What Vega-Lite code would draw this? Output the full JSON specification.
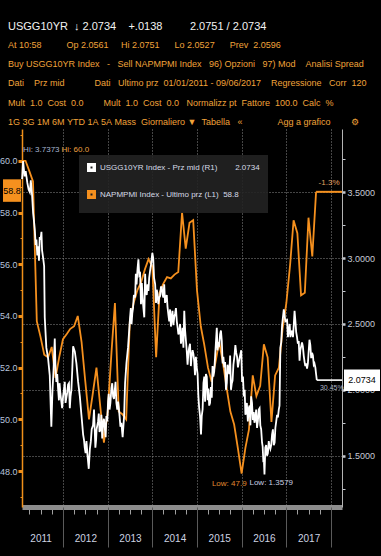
{
  "$schema": "https://vega.github.io/schema/vega-lite/v6.json",
  "width": 320,
  "height": 378,
  "autosize": {"type": "none"},
  "padding": {"left": 22, "top": 129, "right": 39, "bottom": 49},
  "background": "#000000",
  "config": {
    "view": {"stroke": null},
    "font": "Liberation Sans Narrow, Liberation Sans, sans-serif",
    "axis": {"labelFont": "Liberation Sans Narrow, Liberation Sans, sans-serif"},
    "legend": {"labelFont": "Liberation Sans Narrow, Liberation Sans, sans-serif"}
  },
  "title": {
    "text": "USGG10YR\u00a0\u00a0↓\u00a02.0734\u00a0\u00a0\u00a0\u00a0+.0138\u00a0\u00a0\u00a0\u00a0\u00a0\u00a0\u00a0\u00a0\u00a02.0751\u00a0/\u00a02.0734",
    "subtitle": [
      "At\u00a010:58\u00a0\u00a0\u00a0\u00a0\u00a0\u00a0\u00a0\u00a0\u00a0\u00a0Op\u00a02.0561\u00a0\u00a0\u00a0\u00a0\u00a0Hi\u00a02.0751\u00a0\u00a0\u00a0\u00a0\u00a0\u00a0Lo\u00a02.0527\u00a0\u00a0\u00a0\u00a0\u00a0\u00a0Prev\u00a0\u00a02.0596",
      "\u00a0\u00a0\u00a0\u00a0Buy\u00a0USGG10YR\u00a0Index\u00a0\u00a0\u00a0-\u00a0\u00a0\u00a0Sell\u00a0NAPMPMI\u00a0Index\u00a0\u00a0\u00a096)\u00a0Opzioni\u00a0\u00a0\u00a097)\u00a0Mod\u00a0\u00a0\u00a0\u00a0Analisi\u00a0Spread",
      "Dati\u00a0\u00a0\u00a0\u00a0Prz\u00a0mid\u00a0\u00a0\u00a0\u00a0\u00a0\u00a0\u00a0\u00a0\u00a0\u00a0\u00a0\u00a0Dati\u00a0\u00a0\u00a0Ultimo\u00a0prz\u00a0\u00a001/01/2011\u00a0-\u00a009/06/2017\u00a0\u00a0\u00a0\u00a0Regressione\u00a0\u00a0\u00a0Corr\u00a0\u00a0120",
      "Mult\u00a0\u00a01.0\u00a0\u00a0Cost\u00a0\u00a00.0\u00a0\u00a0\u00a0\u00a0\u00a0\u00a0\u00a0\u00a0Mult\u00a0\u00a01.0\u00a0\u00a0Cost\u00a0\u00a00.0\u00a0\u00a0\u00a0Normalizz\u00a0pt\u00a0\u00a0Fattore\u00a0\u00a0100.0\u00a0\u00a0Calc\u00a0\u00a0%",
      "1G\u00a03G\u00a01M\u00a06M\u00a0YTD\u00a01A\u00a05A\u00a0Mass\u00a0\u00a0Giornaliero\u00a0▼\u00a0\u00a0Tabella\u00a0\u00a0\u00a0«\u00a0\u00a0\u00a0\u00a0\u00a0\u00a0\u00a0\u00a0\u00a0\u00a0\u00a0\u00a0\u00a0\u00a0Agg\u00a0a\u00a0grafico\u00a0\u00a0\u00a0\u00a0\u00a0\u00a0\u00a0\u00a0⚙"
    ],
    "anchor": "start",
    "frame": "group",
    "orient": "top",
    "dx": -14,
    "offset": 2,
    "font": "Liberation Sans Narrow, Liberation Sans, sans-serif",
    "fontSize": 11,
    "fontWeight": "normal",
    "color": "#f2f2f2",
    "subtitleFont": "Liberation Sans Narrow, Liberation Sans, sans-serif",
    "subtitleFontSize": 9,
    "subtitleColor": "#f0a33a",
    "subtitleLineHeight": 19.3,
    "subtitlePadding": 9
  },
  "datasets": {
    "pmi": [
      {"date": "2011-01-31", "v": 60.0}, {"date": "2011-02-28", "v": 60.0}, {"date": "2011-03-31", "v": 59.6}, {"date": "2011-04-30", "v": 59.2},
      {"date": "2011-05-31", "v": 53.8}, {"date": "2011-06-30", "v": 53.2}, {"date": "2011-07-31", "v": 52.5}, {"date": "2011-08-31", "v": 52.4},
      {"date": "2011-09-30", "v": 52.8}, {"date": "2011-10-31", "v": 51.6}, {"date": "2011-11-30", "v": 52.4}, {"date": "2011-12-31", "v": 53.1},
      {"date": "2012-01-31", "v": 53.3}, {"date": "2012-02-29", "v": 53.5}, {"date": "2012-03-31", "v": 53.6}, {"date": "2012-04-30", "v": 54.0},
      {"date": "2012-05-31", "v": 53.0}, {"date": "2012-06-30", "v": 51.5}, {"date": "2012-07-31", "v": 50.0}, {"date": "2012-08-31", "v": 51.0},
      {"date": "2012-09-30", "v": 52.0}, {"date": "2012-10-31", "v": 50.5}, {"date": "2012-11-30", "v": 49.1}, {"date": "2012-12-31", "v": 50.3},
      {"date": "2013-01-31", "v": 52.6}, {"date": "2013-02-28", "v": 54.5}, {"date": "2013-03-31", "v": 50.3}, {"date": "2013-04-30", "v": 50.2},
      {"date": "2013-05-31", "v": 50.0}, {"date": "2013-06-30", "v": 53.8}, {"date": "2013-07-31", "v": 54.5}, {"date": "2013-08-31", "v": 55.0},
      {"date": "2013-09-30", "v": 55.3}, {"date": "2013-10-31", "v": 55.8}, {"date": "2013-11-30", "v": 56.2}, {"date": "2013-12-31", "v": 55.9},
      {"date": "2014-01-31", "v": 52.4}, {"date": "2014-02-28", "v": 54.9}, {"date": "2014-03-31", "v": 55.25}, {"date": "2014-04-30", "v": 55.5},
      {"date": "2014-05-31", "v": 55.45}, {"date": "2014-06-30", "v": 55.6}, {"date": "2014-07-31", "v": 55.7}, {"date": "2014-08-31", "v": 58.0},
      {"date": "2014-09-30", "v": 56.6}, {"date": "2014-10-31", "v": 57.6}, {"date": "2014-11-30", "v": 57.7}, {"date": "2014-12-31", "v": 55.0},
      {"date": "2015-01-31", "v": 53.6}, {"date": "2015-02-28", "v": 52.9}, {"date": "2015-03-31", "v": 52.0}, {"date": "2015-04-30", "v": 51.45},
      {"date": "2015-05-31", "v": 52.2}, {"date": "2015-06-30", "v": 53.0}, {"date": "2015-07-31", "v": 52.2}, {"date": "2015-08-31", "v": 51.2},
      {"date": "2015-09-30", "v": 50.3}, {"date": "2015-10-31", "v": 49.8}, {"date": "2015-11-30", "v": 48.9}, {"date": "2015-12-31", "v": 47.9},
      {"date": "2016-01-31", "v": 48.9}, {"date": "2016-02-29", "v": 49.6}, {"date": "2016-03-31", "v": 51.7}, {"date": "2016-04-30", "v": 50.9},
      {"date": "2016-05-31", "v": 51.3}, {"date": "2016-06-30", "v": 52.9}, {"date": "2016-07-31", "v": 52.4}, {"date": "2016-08-31", "v": 49.9},
      {"date": "2016-09-30", "v": 51.7}, {"date": "2016-10-31", "v": 52.0}, {"date": "2016-11-30", "v": 53.5}, {"date": "2016-12-31", "v": 54.5},
      {"date": "2017-01-31", "v": 56.0}, {"date": "2017-02-28", "v": 57.7}, {"date": "2017-03-31", "v": 57.2}, {"date": "2017-04-30", "v": 54.8},
      {"date": "2017-05-31", "v": 54.9}, {"date": "2017-06-30", "v": 57.8}, {"date": "2017-07-31", "v": 56.3}, {"date": "2017-08-31", "v": 58.8}
    ],
    "yld": [
      {"date": "2011-01-31", "v": 3.60}, {"date": "2011-02-08", "v": 3.7373}, {"date": "2011-02-20", "v": 3.62}, {"date": "2011-03-01", "v": 3.66},
      {"date": "2011-03-15", "v": 3.57}, {"date": "2011-03-25", "v": 3.52}, {"date": "2011-04-04", "v": 3.50}, {"date": "2011-04-12", "v": 3.59},
      {"date": "2011-04-23", "v": 3.47}, {"date": "2011-05-01", "v": 3.34}, {"date": "2011-05-08", "v": 3.28}, {"date": "2011-05-15", "v": 3.21},
      {"date": "2011-05-22", "v": 3.10}, {"date": "2011-05-28", "v": 3.14}, {"date": "2011-06-04", "v": 3.02}, {"date": "2011-06-11", "v": 3.09},
      {"date": "2011-06-18", "v": 2.98}, {"date": "2011-06-24", "v": 3.16}, {"date": "2011-07-01", "v": 3.14}, {"date": "2011-07-08", "v": 3.20},
      {"date": "2011-07-13", "v": 3.06}, {"date": "2011-07-22", "v": 3.00}, {"date": "2011-07-30", "v": 2.94}, {"date": "2011-08-04", "v": 2.55},
      {"date": "2011-08-17", "v": 2.32}, {"date": "2011-08-31", "v": 2.24}, {"date": "2011-09-14", "v": 2.11}, {"date": "2011-09-27", "v": 1.72},
      {"date": "2011-10-06", "v": 1.99}, {"date": "2011-10-15", "v": 2.15}, {"date": "2011-10-25", "v": 2.39}, {"date": "2011-10-30", "v": 2.20},
      {"date": "2011-11-07", "v": 2.06}, {"date": "2011-11-14", "v": 2.12}, {"date": "2011-11-21", "v": 2.01}, {"date": "2011-11-28", "v": 1.92},
      {"date": "2011-12-03", "v": 2.05}, {"date": "2011-12-10", "v": 1.97}, {"date": "2011-12-18", "v": 1.91}, {"date": "2011-12-24", "v": 1.86},
      {"date": "2012-01-01", "v": 1.95}, {"date": "2012-01-08", "v": 2.00}, {"date": "2012-01-15", "v": 2.06}, {"date": "2012-01-21", "v": 1.90},
      {"date": "2012-01-28", "v": 1.94}, {"date": "2012-02-04", "v": 1.98}, {"date": "2012-02-11", "v": 2.04}, {"date": "2012-02-18", "v": 2.05},
      {"date": "2012-02-25", "v": 1.86}, {"date": "2012-03-02", "v": 1.95}, {"date": "2012-03-09", "v": 2.00}, {"date": "2012-03-16", "v": 2.15},
      {"date": "2012-03-23", "v": 2.33}, {"date": "2012-04-06", "v": 2.29}, {"date": "2012-04-19", "v": 2.20}, {"date": "2012-05-03", "v": 2.06},
      {"date": "2012-05-17", "v": 1.95}, {"date": "2012-05-30", "v": 1.81}, {"date": "2012-06-13", "v": 1.66}, {"date": "2012-06-20", "v": 1.62},
      {"date": "2012-06-26", "v": 1.56}, {"date": "2012-07-03", "v": 1.52}, {"date": "2012-07-10", "v": 1.61}, {"date": "2012-07-19", "v": 1.50},
      {"date": "2012-07-29", "v": 1.40}, {"date": "2012-08-07", "v": 1.55}, {"date": "2012-08-15", "v": 1.61}, {"date": "2012-08-22", "v": 1.70},
      {"date": "2012-09-02", "v": 1.73}, {"date": "2012-09-10", "v": 1.85}, {"date": "2012-09-21", "v": 1.56}, {"date": "2012-09-27", "v": 1.62},
      {"date": "2012-10-01", "v": 1.70}, {"date": "2012-10-13", "v": 1.76}, {"date": "2012-10-19", "v": 1.82}, {"date": "2012-10-25", "v": 1.68},
      {"date": "2012-11-02", "v": 1.70}, {"date": "2012-11-09", "v": 1.81}, {"date": "2012-11-16", "v": 1.63}, {"date": "2012-11-23", "v": 1.75},
      {"date": "2012-11-30", "v": 1.78}, {"date": "2012-12-07", "v": 1.71}, {"date": "2012-12-14", "v": 1.64}, {"date": "2012-12-20", "v": 1.80},
      {"date": "2012-12-27", "v": 1.76}, {"date": "2013-01-03", "v": 1.91}, {"date": "2013-01-08", "v": 1.97}, {"date": "2013-01-15", "v": 1.85},
      {"date": "2013-01-22", "v": 1.90}, {"date": "2013-01-30", "v": 2.01}, {"date": "2013-02-06", "v": 2.05}, {"date": "2013-02-13", "v": 1.95},
      {"date": "2013-02-20", "v": 1.93}, {"date": "2013-02-27", "v": 2.00}, {"date": "2013-03-05", "v": 2.06}, {"date": "2013-03-12", "v": 1.90},
      {"date": "2013-03-19", "v": 1.85}, {"date": "2013-03-26", "v": 1.91}, {"date": "2013-04-01", "v": 1.86}, {"date": "2013-04-07", "v": 1.80},
      {"date": "2013-04-14", "v": 1.72}, {"date": "2013-04-22", "v": 1.75}, {"date": "2013-04-28", "v": 1.68}, {"date": "2013-05-02", "v": 1.64},
      {"date": "2013-05-14", "v": 1.80}, {"date": "2013-05-22", "v": 2.05}, {"date": "2013-06-02", "v": 2.20}, {"date": "2013-06-15", "v": 2.32},
      {"date": "2013-07-02", "v": 2.55}, {"date": "2013-07-08", "v": 2.62}, {"date": "2013-07-14", "v": 2.50}, {"date": "2013-07-20", "v": 2.58},
      {"date": "2013-07-26", "v": 2.62}, {"date": "2013-08-02", "v": 2.72}, {"date": "2013-08-12", "v": 2.70}, {"date": "2013-08-18", "v": 2.88},
      {"date": "2013-08-24", "v": 2.80}, {"date": "2013-09-01", "v": 2.92}, {"date": "2013-09-08", "v": 2.99}, {"date": "2013-09-15", "v": 2.87},
      {"date": "2013-09-22", "v": 2.88}, {"date": "2013-09-29", "v": 2.65}, {"date": "2013-10-06", "v": 2.81}, {"date": "2013-10-12", "v": 2.70},
      {"date": "2013-10-19", "v": 2.62}, {"date": "2013-10-26", "v": 2.55}, {"date": "2013-11-02", "v": 2.88}, {"date": "2013-11-08", "v": 2.75},
      {"date": "2013-11-15", "v": 2.72}, {"date": "2013-11-22", "v": 2.80}, {"date": "2013-11-29", "v": 2.75}, {"date": "2013-12-05", "v": 2.85},
      {"date": "2013-12-12", "v": 2.90}, {"date": "2013-12-20", "v": 2.95}, {"date": "2013-12-31", "v": 3.04}, {"date": "2014-01-07", "v": 3.00},
      {"date": "2014-01-14", "v": 2.85}, {"date": "2014-01-23", "v": 2.80}, {"date": "2014-01-30", "v": 2.66}, {"date": "2014-02-05", "v": 2.76},
      {"date": "2014-02-12", "v": 2.72}, {"date": "2014-02-18", "v": 2.65}, {"date": "2014-02-25", "v": 2.70}, {"date": "2014-03-04", "v": 2.71},
      {"date": "2014-03-11", "v": 2.78}, {"date": "2014-03-18", "v": 2.78}, {"date": "2014-03-25", "v": 2.72}, {"date": "2014-03-31", "v": 2.70},
      {"date": "2014-04-07", "v": 2.80}, {"date": "2014-04-14", "v": 2.66}, {"date": "2014-04-21", "v": 2.70}, {"date": "2014-04-28", "v": 2.72},
      {"date": "2014-05-04", "v": 2.63}, {"date": "2014-05-11", "v": 2.57}, {"date": "2014-05-18", "v": 2.52}, {"date": "2014-05-25", "v": 2.61},
      {"date": "2014-06-01", "v": 2.48}, {"date": "2014-06-08", "v": 2.55}, {"date": "2014-06-14", "v": 2.60}, {"date": "2014-06-21", "v": 2.49},
      {"date": "2014-06-28", "v": 2.55}, {"date": "2014-07-05", "v": 2.58}, {"date": "2014-07-12", "v": 2.62}, {"date": "2014-07-19", "v": 2.52},
      {"date": "2014-07-26", "v": 2.47}, {"date": "2014-08-01", "v": 2.42}, {"date": "2014-08-08", "v": 2.44}, {"date": "2014-08-15", "v": 2.50},
      {"date": "2014-08-22", "v": 2.35}, {"date": "2014-08-29", "v": 2.40}, {"date": "2014-09-04", "v": 2.47}, {"date": "2014-09-11", "v": 2.32},
      {"date": "2014-09-18", "v": 2.60}, {"date": "2014-09-25", "v": 2.45}, {"date": "2014-10-01", "v": 2.38}, {"date": "2014-10-08", "v": 2.30},
      {"date": "2014-10-15", "v": 2.19}, {"date": "2014-10-22", "v": 2.28}, {"date": "2014-10-28", "v": 2.32}, {"date": "2014-11-04", "v": 2.35},
      {"date": "2014-11-11", "v": 2.18}, {"date": "2014-11-18", "v": 2.26}, {"date": "2014-11-25", "v": 2.30}, {"date": "2014-12-02", "v": 2.27},
      {"date": "2014-12-08", "v": 2.22}, {"date": "2014-12-15", "v": 2.11}, {"date": "2014-12-22", "v": 2.25}, {"date": "2014-12-29", "v": 2.17},
      {"date": "2015-01-05", "v": 2.12}, {"date": "2015-01-11", "v": 1.96}, {"date": "2015-01-18", "v": 1.86}, {"date": "2015-01-25", "v": 1.80},
      {"date": "2015-02-02", "v": 1.66}, {"date": "2015-02-08", "v": 1.80}, {"date": "2015-02-15", "v": 1.85}, {"date": "2015-02-22", "v": 2.05},
      {"date": "2015-03-01", "v": 2.10}, {"date": "2015-03-07", "v": 1.91}, {"date": "2015-03-14", "v": 2.12}, {"date": "2015-03-21", "v": 2.10},
      {"date": "2015-03-28", "v": 1.92}, {"date": "2015-04-03", "v": 2.01}, {"date": "2015-04-10", "v": 1.88}, {"date": "2015-04-17", "v": 1.90},
      {"date": "2015-04-24", "v": 2.02}, {"date": "2015-05-01", "v": 1.94}, {"date": "2015-05-07", "v": 2.18}, {"date": "2015-05-14", "v": 2.10},
      {"date": "2015-05-21", "v": 2.14}, {"date": "2015-05-28", "v": 2.25}, {"date": "2015-06-04", "v": 2.36}, {"date": "2015-06-11", "v": 2.47},
      {"date": "2015-06-17", "v": 2.30}, {"date": "2015-06-24", "v": 2.35}, {"date": "2015-07-01", "v": 2.34}, {"date": "2015-07-08", "v": 2.42},
      {"date": "2015-07-15", "v": 2.45}, {"date": "2015-07-22", "v": 2.37}, {"date": "2015-07-29", "v": 2.20}, {"date": "2015-08-04", "v": 2.25},
      {"date": "2015-08-11", "v": 2.17}, {"date": "2015-08-18", "v": 2.21}, {"date": "2015-08-25", "v": 2.00}, {"date": "2015-09-01", "v": 2.05},
      {"date": "2015-09-07", "v": 2.19}, {"date": "2015-09-14", "v": 2.15}, {"date": "2015-09-21", "v": 2.12}, {"date": "2015-09-28", "v": 2.26},
      {"date": "2015-10-05", "v": 2.00}, {"date": "2015-10-12", "v": 2.05}, {"date": "2015-10-18", "v": 2.07}, {"date": "2015-10-25", "v": 2.19},
      {"date": "2015-11-03", "v": 2.26}, {"date": "2015-11-10", "v": 2.34}, {"date": "2015-11-17", "v": 2.28}, {"date": "2015-11-24", "v": 2.25},
      {"date": "2015-12-01", "v": 2.17}, {"date": "2015-12-08", "v": 2.21}, {"date": "2015-12-14", "v": 2.24}, {"date": "2015-12-21", "v": 2.27},
      {"date": "2015-12-28", "v": 2.30}, {"date": "2016-01-04", "v": 2.06}, {"date": "2016-01-11", "v": 2.10}, {"date": "2016-01-18", "v": 1.95},
      {"date": "2016-01-25", "v": 2.00}, {"date": "2016-01-31", "v": 1.81}, {"date": "2016-02-06", "v": 1.84}, {"date": "2016-02-12", "v": 1.90},
      {"date": "2016-02-20", "v": 1.76}, {"date": "2016-02-28", "v": 1.86}, {"date": "2016-03-05", "v": 1.88}, {"date": "2016-03-12", "v": 1.73},
      {"date": "2016-03-18", "v": 1.95}, {"date": "2016-03-25", "v": 1.90}, {"date": "2016-04-01", "v": 1.77}, {"date": "2016-04-08", "v": 1.83},
      {"date": "2016-04-14", "v": 1.75}, {"date": "2016-04-21", "v": 1.78}, {"date": "2016-04-28", "v": 1.85}, {"date": "2016-05-05", "v": 1.71},
      {"date": "2016-05-12", "v": 1.76}, {"date": "2016-05-19", "v": 1.85}, {"date": "2016-05-26", "v": 1.86}, {"date": "2016-06-01", "v": 1.73},
      {"date": "2016-06-08", "v": 1.70}, {"date": "2016-06-15", "v": 1.60}, {"date": "2016-06-20", "v": 1.57}, {"date": "2016-06-26", "v": 1.45},
      {"date": "2016-06-30", "v": 1.47}, {"date": "2016-07-05", "v": 1.3579}, {"date": "2016-07-12", "v": 1.56}, {"date": "2016-07-19", "v": 1.58},
      {"date": "2016-07-26", "v": 1.50}, {"date": "2016-08-02", "v": 1.52}, {"date": "2016-08-09", "v": 1.61}, {"date": "2016-08-15", "v": 1.57},
      {"date": "2016-08-22", "v": 1.55}, {"date": "2016-08-29", "v": 1.58}, {"date": "2016-09-05", "v": 1.66}, {"date": "2016-09-12", "v": 1.70},
      {"date": "2016-09-19", "v": 1.58}, {"date": "2016-09-26", "v": 1.60}, {"date": "2016-10-02", "v": 1.71}, {"date": "2016-10-09", "v": 1.76},
      {"date": "2016-10-16", "v": 1.81}, {"date": "2016-10-23", "v": 1.79}, {"date": "2016-10-30", "v": 1.85}, {"date": "2016-11-05", "v": 1.88},
      {"date": "2016-11-12", "v": 2.32}, {"date": "2016-11-19", "v": 2.36}, {"date": "2016-11-26", "v": 2.49}, {"date": "2016-12-10", "v": 2.61},
      {"date": "2016-12-23", "v": 2.52}, {"date": "2017-01-06", "v": 2.53}, {"date": "2017-01-13", "v": 2.40}, {"date": "2017-01-20", "v": 2.45},
      {"date": "2017-01-27", "v": 2.50}, {"date": "2017-02-02", "v": 2.40}, {"date": "2017-02-09", "v": 2.43}, {"date": "2017-02-16", "v": 2.45},
      {"date": "2017-02-23", "v": 2.40}, {"date": "2017-03-02", "v": 2.50}, {"date": "2017-03-08", "v": 2.60}, {"date": "2017-03-15", "v": 2.52},
      {"date": "2017-03-21", "v": 2.44}, {"date": "2017-03-28", "v": 2.40}, {"date": "2017-04-04", "v": 2.35}, {"date": "2017-04-11", "v": 2.37},
      {"date": "2017-04-18", "v": 2.22}, {"date": "2017-04-24", "v": 2.30}, {"date": "2017-05-01", "v": 2.33}, {"date": "2017-05-08", "v": 2.36},
      {"date": "2017-05-15", "v": 2.33}, {"date": "2017-05-22", "v": 2.26}, {"date": "2017-05-29", "v": 2.21}, {"date": "2017-06-04", "v": 2.18},
      {"date": "2017-06-11", "v": 2.20}, {"date": "2017-06-18", "v": 2.16}, {"date": "2017-06-25", "v": 2.20}, {"date": "2017-07-02", "v": 2.30},
      {"date": "2017-07-08", "v": 2.38}, {"date": "2017-07-15", "v": 2.34}, {"date": "2017-07-22", "v": 2.24}, {"date": "2017-07-29", "v": 2.28},
      {"date": "2017-08-05", "v": 2.26}, {"date": "2017-08-12", "v": 2.19}, {"date": "2017-08-18", "v": 2.20}, {"date": "2017-08-25", "v": 2.17},
      {"date": "2017-08-31", "v": 2.12}, {"date": "2017-09-06", "v": 2.0734}
    ]
  },
  "layer": [
    {
      "encoding": {
        "x": {
          "field": "date", "type": "temporal",
          "scale": {"type": "utc", "domain": [{"year": 2011, "month": 1, "date": 30, "utc": true}, {"year": 2018, "month": 3, "date": 31, "utc": true}]},
          "axis": {
            "orient": "bottom", "title": null, "grid": false,
            "values": [
              {"year": 2011, "month": 4, "date": 1, "utc": true}, {"year": 2011, "month": 7, "date": 1, "utc": true}, {"year": 2011, "month": 10, "date": 1, "utc": true},
              {"year": 2012, "month": 4, "date": 1, "utc": true}, {"year": 2012, "month": 7, "date": 1, "utc": true}, {"year": 2012, "month": 10, "date": 1, "utc": true},
              {"year": 2013, "month": 4, "date": 1, "utc": true}, {"year": 2013, "month": 7, "date": 1, "utc": true}, {"year": 2013, "month": 10, "date": 1, "utc": true},
              {"year": 2014, "month": 4, "date": 1, "utc": true}, {"year": 2014, "month": 7, "date": 1, "utc": true}, {"year": 2014, "month": 10, "date": 1, "utc": true},
              {"year": 2015, "month": 4, "date": 1, "utc": true}, {"year": 2015, "month": 7, "date": 1, "utc": true}, {"year": 2015, "month": 10, "date": 1, "utc": true},
              {"year": 2016, "month": 4, "date": 1, "utc": true}, {"year": 2016, "month": 7, "date": 1, "utc": true}, {"year": 2016, "month": 10, "date": 1, "utc": true},
              {"year": 2017, "month": 4, "date": 1, "utc": true}, {"year": 2017, "month": 7, "date": 1, "utc": true}, {"year": 2017, "month": 10, "date": 1, "utc": true}
            ],
            "labelExpr": "utcmonth(datum.value) == 6 ? '' + utcyear(datum.value) : ''",
            "labelOverlap": false, "labelFlush": false,
            "domain": true, "domainColor": "#8d8d8d", "domainWidth": 5,
            "ticks": true, "tickSize": 7, "tickColor": "#a0a0a0", "tickWidth": 1,
            "labelColor": "#cdd3e2", "labelFontSize": 10, "labelPadding": 19, "zindex": 0
          }
        },
        "y": {
          "field": "v", "type": "quantitative",
          "scale": {"domain": [46.61, 61.23], "nice": false, "zero": false},
          "axis": {
            "orient": "left", "title": null, "grid": false,
            "values": [47, 48, 49, 50, 51, 52, 53, 54, 55, 56, 57, 58, 59, 60, 61],
            "labelExpr": "datum.value % 2 === 0 ? format(datum.value, '.1f') : ''",
            "labelOverlap": false,
            "domainColor": "#f0901a", "domainWidth": 1.5,
            "tickColor": "#f0901a",
            "tickSize": {"condition": {"test": "datum.value % 2 === 0", "value": 4}, "value": 2},
            "tickWidth": {"condition": {"test": "datum.value % 2 === 0", "value": 3}, "value": 1},
            "labelColor": "#b6c3dc", "labelFontSize": 9, "labelPadding": 1, "zindex": 0
          }
        }
      },
      "layer": [
        {
          "data": {"name": "pmi"},
          "mark": {"type": "line", "strokeWidth": 1.8},
          "encoding": {
            "color": {
              "datum": "NAPMPMI Index - Ultimo prz (L1)\u00a0\u00a058.8",
              "scale": {"domain": ["USGG10YR Index - Prz mid (R1)\u00a0\u00a0\u00a0\u00a0\u00a0\u00a0\u00a0\u00a02.0734", "NAPMPMI Index - Ultimo prz (L1)\u00a0\u00a058.8"], "range": ["#ffffff", "#f5901e"]},
              "legend": {
                "orient": "none", "legendX": 57, "legendY": 26, "title": null,
                "fillColor": "rgba(34,34,34,0.9)", "padding": 8,
                "symbolType": "square", "symbolSize": 30, "symbolStrokeWidth": 3.5,
                "labelColor": "#d6dbe6", "labelFontSize": 8, "labelLimit": 220, "rowPadding": 6
              }
            }
          }
        },
        {
          "data": {"values": [{"date": "2017-08-31", "end": "2018-03-31", "v": 58.8}]},
          "mark": {"type": "rule", "color": "#f5901e", "strokeWidth": 2},
          "encoding": {"x2": {"field": "end"}}
        },
        {
          "data": {"values": [{"date": "2011-01-30", "v": 58.8, "label": "58.8"}]},
          "layer": [
            {
              "mark": {"type": "point", "shape": "M-1.9,-1.25H-0.1V1.0H-1.9Z", "size": 400, "filled": true, "color": "#f5901e", "opacity": 1, "strokeWidth": 0},
              "encoding": {}
            },
            {
              "mark": {"type": "text", "dx": -10, "dy": -1, "align": "center", "baseline": "middle", "fontSize": 9, "color": "#000000"},
              "encoding": {"text": {"field": "label"}}
            }
          ]
        },
        {
          "data": {"values": [{"date": "2011-02-28", "v": 60.0, "label": "Hi: 60.0"}]},
          "mark": {"type": "text", "dx": 36, "dy": -11, "align": "left", "baseline": "middle", "fontSize": 8, "color": "#f0a040"},
          "encoding": {"text": {"field": "label"}}
        },
        {
          "data": {"values": [{"date": "2015-12-31", "v": 47.9, "label": "Low: 47.9"}]},
          "mark": {"type": "text", "dx": 5, "dy": 10, "align": "right", "baseline": "middle", "fontSize": 8, "color": "#e08a30"},
          "encoding": {"text": {"field": "label"}}
        },
        {
          "data": {"values": [{"date": "2017-08-31", "v": 58.8, "label": "-1.3%"}]},
          "mark": {"type": "text", "dx": 13, "dy": -9, "align": "center", "baseline": "middle", "fontSize": 8, "color": "#e0a060"},
          "encoding": {"text": {"field": "label"}}
        }
      ]
    },
    {
      "encoding": {
        "x": {
          "field": "date", "type": "temporal",
          "scale": {"type": "utc", "domain": [{"year": 2011, "month": 1, "date": 30, "utc": true}, {"year": 2018, "month": 3, "date": 31, "utc": true}]},
          "axis": {
            "orient": "bottom", "title": null,
            "values": [
              {"year": 2012, "month": 1, "date": 1, "utc": true}, {"year": 2013, "month": 1, "date": 1, "utc": true}, {"year": 2014, "month": 1, "date": 1, "utc": true},
              {"year": 2015, "month": 1, "date": 1, "utc": true}, {"year": 2016, "month": 1, "date": 1, "utc": true}, {"year": 2017, "month": 1, "date": 1, "utc": true},
              {"year": 2018, "month": 1, "date": 1, "utc": true}
            ],
            "labels": false, "domain": false,
            "grid": true, "gridColor": "#8a8a8a", "gridDash": [1, 2], "gridWidth": 1,
            "ticks": true, "tickSize": 40, "tickColor": "#5a5a5a", "tickWidth": 1, "zindex": 0
          }
        },
        "y": {
          "field": "v", "type": "quantitative",
          "scale": {"domain": [1.11, 3.98], "nice": false, "zero": false},
          "axis": {
            "orient": "right", "title": null,
            "values": [1.25, 1.5, 1.75, 2, 2.25, 2.5, 2.75, 3, 3.25, 3.5, 3.75],
            "labelExpr": "datum.value % 0.5 === 0 ? format(datum.value, '.4f') : ''",
            "labelOverlap": false,
            "grid": true,
            "gridColor": {"condition": {"test": "datum.value % 0.5 === 0", "value": "#8a8a8a"}, "value": "transparent"},
            "gridDash": [1, 2], "gridWidth": 1,
            "domainColor": "#b4b4b4", "domainWidth": 1,
            "tickColor": "#c4c8d0", "tickSize": 3,
            "tickWidth": {"condition": {"test": "datum.value % 0.5 === 0", "value": 2.5}, "value": 1},
            "labelColor": "#c6cad4", "labelFontSize": 9, "labelPadding": 2, "zindex": 0
          }
        }
      },
      "layer": [
        {
          "data": {"name": "yld"},
          "mark": {"type": "line", "strokeWidth": 1.8},
          "encoding": {"color": {"datum": "USGG10YR Index - Prz mid (R1)\u00a0\u00a0\u00a0\u00a0\u00a0\u00a0\u00a0\u00a02.0734"}}
        },
        {
          "data": {"values": [{"date": "2017-09-06", "end": "2018-03-31", "v": 2.0734}]},
          "mark": {"type": "rule", "color": "#ffffff", "strokeWidth": 1.6},
          "encoding": {"x2": {"field": "end"}}
        },
        {
          "data": {"values": [{"date": "2018-03-31", "v": 2.0734, "label": "2.0734"}]},
          "layer": [
            {
              "mark": {"type": "point", "shape": "M0.2,-1.05H3.8V1.1H0.2Z", "size": 400, "filled": true, "color": "#ffffff", "opacity": 1, "strokeWidth": 0},
              "encoding": {}
            },
            {
              "mark": {"type": "text", "dx": 20, "dy": 0, "align": "center", "baseline": "middle", "fontSize": 9, "color": "#000000"},
              "encoding": {"text": {"field": "label"}}
            }
          ]
        },
        {
          "data": {"values": [{"date": "2011-02-08", "v": 3.7373, "label": "Hi: 3.7373"}]},
          "mark": {"type": "text", "dx": 0, "dy": -11, "align": "left", "baseline": "middle", "fontSize": 8, "color": "#a9b6d2"},
          "encoding": {"text": {"field": "label"}}
        },
        {
          "data": {"values": [{"date": "2016-07-05", "v": 1.3579, "label": "Low: 1.3579"}]},
          "mark": {"type": "text", "dx": -15, "dy": 9, "align": "left", "baseline": "middle", "fontSize": 8, "color": "#c8cfe0"},
          "encoding": {"text": {"field": "label"}}
        },
        {
          "data": {"values": [{"date": "2017-09-06", "v": 2.0734, "label": "30.45%"}]},
          "mark": {"type": "text", "dx": 15, "dy": 8, "align": "center", "baseline": "middle", "fontSize": 7, "color": "#aab2c4"},
          "encoding": {"text": {"field": "label"}}
        }
      ]
    }
  ],
  "resolve": {"scale": {"y": "independent"}, "axis": {"x": "independent"}}
}
